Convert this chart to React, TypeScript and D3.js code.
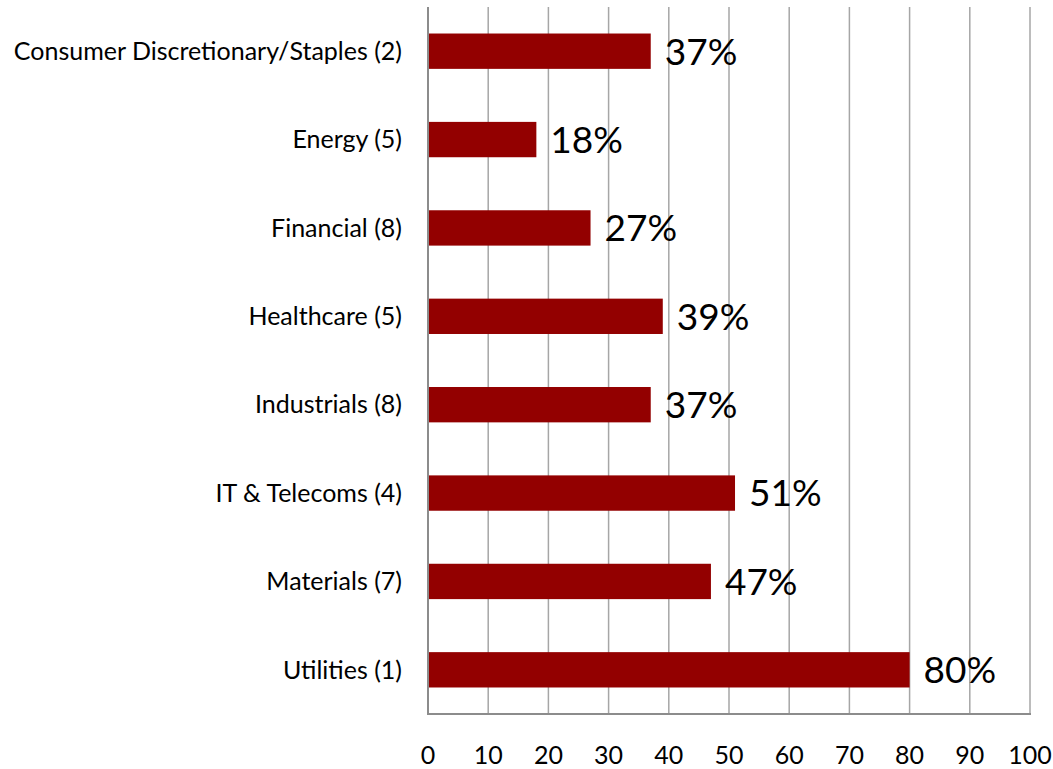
import { useEffect, useRef } from "react"
import * as d3 from "d3"

const categories = [
  "Consumer Discretionary/Staples (2)",
  "Energy (5)",
  "Financial (8)",
  "Healthcare (5)",
  "Industrials (8)",
  "IT & Telecoms (4)",
  "Materials (7)",
  "Utilities (1)",
]
const values = [37, 18, 27, 39, 37, 51, 47, 80]
const xTicks = [0, 10, 20, 30, 40, 50, 60, 70, 80, 90, 100]

const W = 1053
const H = 769
const FONT = "Lato, 'Open Sans', sans-serif"

const App = () => {
  const svgRef = useRef<SVGSVGElement>(null)

  useEffect(() => {
    const svg = d3.select(svgRef.current)
    svg.selectAll("*").remove()

    const left = 428
    const right = 1030
    const top = 7
    const bottom = 714

    const x = d3.scaleLinear().domain([0, 100]).range([left, right])
    const y = d3.scaleBand().domain(categories).range([top, bottom]).paddingInner(0.6).paddingOuter(0.3)

    // vertical gridlines
    svg.append("g")
      .selectAll("line")
      .data(xTicks.slice(1))
      .join("line")
      .attr("x1", d => x(d))
      .attr("x2", d => x(d))
      .attr("y1", top)
      .attr("y2", bottom)
      .attr("stroke", "#a6a6a6")
      .attr("stroke-width", 1.5)

    // bars
    svg.append("g")
      .selectAll("rect")
      .data(values)
      .join("rect")
      .attr("x", x(0))
      .attr("y", (d, i) => y(categories[i])!)
      .attr("width", d => x(d) - x(0))
      .attr("height", y.bandwidth())
      .attr("fill", "#930000")

    // axis lines
    svg.append("line")
      .attr("x1", x(0)).attr("x2", x(0))
      .attr("y1", top).attr("y2", bottom)
      .attr("stroke", "#8c8c8c").attr("stroke-width", 2)
    svg.append("line")
      .attr("x1", x(0) - 1).attr("x2", x(100) + 1)
      .attr("y1", bottom).attr("y2", bottom)
      .attr("stroke", "#8c8c8c").attr("stroke-width", 2)

    // category labels
    svg.append("g")
      .selectAll("text")
      .data(categories)
      .join("text")
      .attr("x", 402)
      .attr("y", d => y(d)! + y.bandwidth() / 2)
      .attr("dy", "0.35em")
      .attr("text-anchor", "end")
      .attr("font-family", FONT)
      .attr("font-size", 25)
      .attr("fill", "#000")
      .text(d => d)

    // value labels
    svg.append("g")
      .selectAll("text")
      .data(values)
      .join("text")
      .attr("x", d => x(d) + 14)
      .attr("y", (d, i) => y(categories[i])! + y.bandwidth() / 2)
      .attr("dy", "0.36em")
      .attr("font-family", FONT)
      .attr("font-size", 37)
      .attr("fill", "#000")
      .text(d => `${d}%`)

    // x tick labels
    svg.append("g")
      .selectAll("text")
      .data(xTicks)
      .join("text")
      .attr("x", d => x(d))
      .attr("y", 755)
      .attr("dy", "0.35em")
      .attr("text-anchor", "middle")
      .attr("font-family", FONT)
      .attr("font-size", 25)
      .attr("fill", "#000")
      .text(d => d)
  }, [])

  return (
    <svg ref={svgRef} width={W} height={H} style={{ position: "absolute", left: 0, top: 0 }} />
  )
}

export default App
